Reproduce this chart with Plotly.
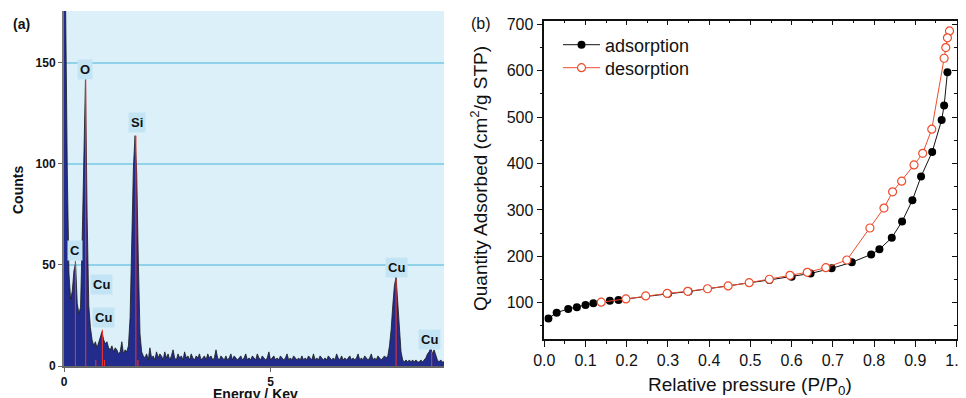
import plotly.graph_objects as go

# page is 966x398; the page body adds an 8px margin, so the figure is sized to fit
OFF = 8
W, H = 966 - OFF, 398 - OFF

# ---------------- Panel (a): EDS spectrum ----------------
energy_start_kev = 0.0
energy_step_kev = 0.04
eds_counts = [
    260, 158, 96, 46, 33, 37, 47, 51, 31, 26,
    29, 62, 112, 142, 74, 30, 19, 13, 10, 12,
    9, 12, 14, 17, 13, 11, 12, 9, 8, 10,
    7, 9, 8, 6, 7, 12, 6, 8, 7, 10,
    24, 62, 98, 114, 96, 52, 16, 7, 5,
    # background 1.96 - 7.84 keV
    4, 6, 3, 9, 4, 5, 3, 7, 4, 6,
    5, 3, 7, 4, 6, 3, 5, 8, 4, 3,
    6, 4, 5, 3, 7, 4, 5, 3, 6, 4,
    3, 5, 4, 6, 3, 4, 5, 3, 6, 4,
    5, 3, 4, 8, 4, 3, 5, 4, 3, 5,
    3, 4, 6, 3, 5, 4, 3, 4, 5, 3,
    4, 6, 3, 4, 3, 5, 4, 3, 6, 4,
    3, 5, 4, 3, 4, 7, 3, 4, 5, 3,
    4, 3, 5, 4, 3, 4, 6, 3, 4, 3,
    5, 4, 3, 4, 3, 5, 3, 4, 3, 5,
    4, 3, 6, 3, 4, 3, 5, 4, 3, 4,
    3, 5, 4, 3, 4, 3, 6, 4, 3, 5,
    3, 4, 3, 4, 5, 3, 4, 3, 4, 6,
    3, 4, 3, 5, 4, 3, 4, 6, 3, 4,
    3, 5, 4, 3, 4, 5, 4, 5,
    # Cu K-alpha
    10, 18, 30, 40, 44, 33, 17, 7, 3,
    2, 3, 2, 3, 2, 3, 2, 3, 2, 2, 3, 2, 3, 4,
    # Cu K-beta
    6, 7, 9, 6, 8, 5, 3,
    2, 3, 2, 2,
]
energy_kev = [round(energy_start_kev + i * energy_step_kev, 2) for i in range(len(eds_counts))]

line_energy = [0.277, 0.525, 0.77, 0.93, 0.98, 1.74, 1.79, 8.04, 8.90]
line_height = [52, 142, 3, 18, 3, 114, 3, 43, 7]

label_text = ["C", "O", "Cu", "Cu", "Si", "Cu", "Cu"]
label_energy = [0.27, 0.52, 0.90, 0.96, 1.77, 8.05, 8.84]
label_count = [57, 146.5, 40.5, 23.8, 120.5, 49, 13]

a_xticks = [0, 5]
a_yticks = [0, 50, 100, 150]

# ---------------- Panel (b): N2 isotherm ----------------
ads_p = [0.010, 0.030, 0.058, 0.079, 0.100, 0.119, 0.159, 0.180, 0.300, 0.350,
         0.546, 0.600, 0.646, 0.697, 0.746, 0.793, 0.813, 0.843, 0.868, 0.893,
         0.914, 0.941, 0.964, 0.970, 0.978]
ads_q = [66, 78.5, 86.5, 90, 95, 98.5, 104, 106, 119, 124,
         149, 156, 163, 174, 187, 204, 215, 240, 275, 321,
         372, 425, 494, 525, 597]
des_p = [0.983, 0.978, 0.974, 0.970, 0.940, 0.918, 0.897, 0.867, 0.845, 0.824,
         0.790, 0.734, 0.683, 0.638, 0.596, 0.546, 0.497, 0.446, 0.396, 0.348,
         0.298, 0.246, 0.198, 0.138]
des_q = [686, 671, 650, 627, 474, 422, 397, 362, 339, 304,
         261, 192, 175.5, 165.5, 159, 150.5, 143, 136, 130, 124.5,
         120, 114.5, 108, 101]

FONT = "Liberation Sans, Arial, sans-serif"
RED = "#ee4b2b"

def px_x(p):
    return (p - OFF) / W

def px_y(p):
    return 1 - (p - OFF) / H

fig = go.Figure()

# spectrum
fig.add_trace(go.Scatter(
    x=energy_kev, y=eds_counts, mode="lines",
    line=dict(color="#1a1a1a", width=0.8),
    fill="tozeroy", fillcolor="#222c8c",
    xaxis="x", yaxis="y", showlegend=False, hoverinfo="skip"))

# red element marker lines
lx, ly = [], []
for e, h in zip(line_energy, line_height):
    lx += [e, e, None]
    ly += [0, h, None]
fig.add_trace(go.Scatter(
    x=lx, y=ly, mode="lines", line=dict(color="#e8312f", width=1.1),
    xaxis="x", yaxis="y", showlegend=False, hoverinfo="skip"))

# isotherm
fig.add_trace(go.Scatter(
    x=ads_p, y=ads_q, mode="lines+markers", name="adsorption", legend="legend",
    line=dict(color="#111111", width=1),
    marker=dict(symbol="circle", size=8, color="#000000", line=dict(width=0)),
    xaxis="x2", yaxis="y2"))
fig.add_trace(go.Scatter(
    x=des_p, y=des_q, mode="lines+markers", name="desorption", legend="legend2",
    line=dict(color=RED, width=1),
    marker=dict(symbol="circle", size=8, color="#ffffff", line=dict(color=RED, width=1.2)),
    xaxis="x2", yaxis="y2"))
# helper trace for mirrored (inside) ticks on top/right
fig.add_trace(go.Scatter(x=[0.5], y=[300], xaxis="x3", yaxis="y3", mode="markers",
                         marker=dict(opacity=0), showlegend=False, hoverinfo="skip"))

annotations = []
for t, e, c in zip(label_text, label_energy, label_count):
    annotations.append(dict(
        x=e, y=c, xref="x", yref="y", text=t, showarrow=False,
        xanchor="center", yanchor="middle",
        font=dict(family=FONT, size=13, color="#111", weight="bold"),
        bgcolor="#c3e4f4", borderpad=2))

def note(px, py, text, size, bold=False, angle=0):
    f = dict(family=FONT, size=size, color="#111")
    if bold:
        f["weight"] = "bold"
    return dict(x=px_x(px), y=px_y(py), xref="paper", yref="paper", text=text,
                showarrow=False, xanchor="center", yanchor="middle",
                textangle=angle, font=f)

annotations += [
    note(21, 24, "(a)", 14, bold=True),
    note(18, 190, "Counts", 14, bold=True, angle=-90),
    note(255, 394, "Energy / Kev", 14, bold=True),
    note(481, 24, "(b)", 16),
    note(479, 179, "Quantity Adsorbed (cm<sup>2</sup>/g STP)", 19, angle=-90),
    note(750, 386, "Relative pressure (P/P<sub>0</sub>)", 19),
]

shapes = [dict(type="rect", xref="x domain", yref="y domain", x0=0, x1=1, y0=0, y1=1,
               fillcolor="#dcf0f9", line=dict(width=0), layer="below")]

tick_b = dict(family=FONT, size=16, color="#111")
leg_font = dict(family=FONT, size=18, color="#111")

fig.update_layout(
    template="none",
    width=W, height=H,
    margin=dict(l=0, r=0, t=0, b=0, autoexpand=False),
    paper_bgcolor="white", plot_bgcolor="rgba(0,0,0,0)",
    showlegend=True,
    legend=dict(x=px_x(558), y=px_y(45), xanchor="left", yanchor="middle",
                bgcolor="rgba(0,0,0,0)", font=leg_font, itemwidth=37),
    legend2=dict(x=px_x(558), y=px_y(68), xanchor="left", yanchor="middle",
                 bgcolor="rgba(0,0,0,0)", font=leg_font, itemwidth=37),
    xaxis=dict(domain=[px_x(64), px_x(444)], range=[0, 9.2], anchor="y", automargin=False,
               tickvals=a_xticks, ticks="outside", ticklen=4, tickcolor="#666",
               showline=True, linecolor="#666", linewidth=1.5,
               showgrid=False, zeroline=False,
               tickfont=dict(family=FONT, size=12, color="#111", weight="bold")),
    yaxis=dict(domain=[px_y(366), px_y(11)], range=[0, 175.7], anchor="x", automargin=False,
               tickvals=a_yticks, ticks="outside", ticklen=4, tickcolor="#666",
               showline=True, linecolor="#777", linewidth=2,
               showgrid=True, gridcolor="#8fd2ea", gridwidth=1.5, zeroline=False,
               tickfont=dict(family=FONT, size=12, color="#111", weight="bold")),
    xaxis2=dict(domain=[px_x(544.3), px_x(956.7)], range=[0, 1.0005], anchor="y2", automargin=False,
                tick0=0, dtick=0.1, tickformat=".1f", ticks="outside", ticklen=6,
                tickcolor="#111", tickwidth=1.2, ticklabeloverflow="allow",
                minor=dict(ticks="outside", ticklen=3, dtick=0.05, tickcolor="#111"),
                showline=True, linecolor="#111", linewidth=1.5,
                showgrid=False, zeroline=False, tickfont=tick_b),
    yaxis2=dict(domain=[px_y(339.3), px_y(20.7)], range=[21, 708], anchor="x2", automargin=False,
                tick0=0, dtick=100, ticks="outside", ticklen=6,
                tickcolor="#111", tickwidth=1.2,
                minor=dict(ticks="outside", ticklen=3, dtick=50, tickcolor="#111"),
                showline=True, linecolor="#111", linewidth=1.5,
                showgrid=False, zeroline=False, tickfont=tick_b),
    xaxis3=dict(overlaying="x2", side="top", anchor="y2", range=[0, 1.0005], automargin=False,
                tick0=0, dtick=0.1, ticks="inside", ticklen=5, tickcolor="#111",
                minor=dict(ticks="inside", ticklen=3, dtick=0.05, tickcolor="#111"),
                showticklabels=False, showline=True, linecolor="#111", linewidth=1.5,
                showgrid=False, zeroline=False),
    yaxis3=dict(overlaying="y2", side="right", anchor="x2", range=[21, 708], automargin=False,
                tick0=0, dtick=100, ticks="inside", ticklen=5, tickcolor="#111",
                minor=dict(ticks="inside", ticklen=3, dtick=50, tickcolor="#111"),
                showticklabels=False, showline=True, linecolor="#111", linewidth=1.5,
                showgrid=False, zeroline=False),
    annotations=annotations,
    shapes=shapes,
)

fig.write_html("out.html")
